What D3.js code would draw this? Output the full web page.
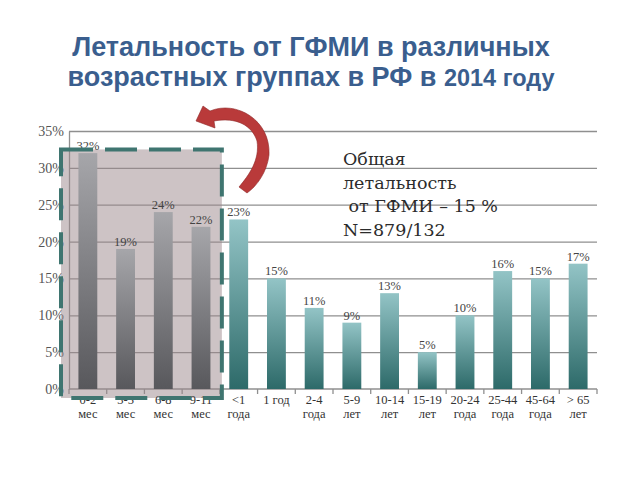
<!DOCTYPE html>
<html>
<head>
<meta charset="utf-8">
<script src="https://cdn.jsdelivr.net/npm/d3@7"></script>
<style>
  body { margin: 0; background: #fff; }
  svg { display: block; }
</style>
</head>
<body>
<div id="chart"></div>
<script>
// data
const categories = ["0-2\nмес", "3-5\nмес", "6-8\nмес", "9-11\nмес", "<1\nгода", "1 год",
  "2-4\nгода", "5-9\nлет", "10-14\nлет", "15-19\nлет", "20-24\nгода", "25-44\nгода", "45-64\nгода", "> 65\nлет"];
const values = [32, 19, 24, 22, 23, 15, 11, 9, 13, 5, 10, 16, 15, 17];
const infantCount = 4; // first four bars are highlighted (under 1 year)
const yTicks = [0, 5, 10, 15, 20, 25, 30, 35];
const titleLines = ["Летальность от ГФМИ в различных", "возрастных группах в РФ в "];
const titleTail = "2014 году";
const noteLines = ["Общая", "летальность", " от ГФМИ – 15 %", "N=879/132"];

const width = 640, height = 480;
const plotLeft = 69, plotRight = 597, plotTop = 131, plotBottom = 389;

const svg = d3.select('#chart')
  .append('svg')
    .attr('width', width)
    .attr('height', height);

const serif = "'Liberation Serif', 'DejaVu Serif', serif";

// gradients for the bars
const defs = svg.append('defs');
function grad(id, c1, c2) {
  const g = defs.append('linearGradient').attr('id', id)
    .attr('x1', 0).attr('y1', 0).attr('x2', 0).attr('y2', 1);
  g.append('stop').attr('offset', '0%').attr('stop-color', c1);
  g.append('stop').attr('offset', '100%').attr('stop-color', c2);
}
grad('gGray', '#a6a6aa', '#58585c');
grad('gTeal', '#93c4c6', '#2d6a69');

const x = d3.scaleBand()
    .domain(categories)
    .range([plotLeft, plotRight])
    .paddingInner(0.5)
    .paddingOuter(0.25);

const y = d3.scaleLinear()
    .domain([0, 35])
    .range([plotBottom, plotTop]);

// title
const title = svg.append('text')
    .attr('x', 311)
    .attr('text-anchor', 'middle')
    .style('font-family', "'Liberation Sans', Arial, sans-serif")
    .style('font-weight', 'bold')
    .style('font-size', '27px')
    .attr('fill', '#3a5e8e');
title.append('tspan').attr('x', 311).attr('y', 56).text(titleLines[0]);
title.append('tspan').attr('x', 311).attr('y', 86).text(titleLines[1])
  .append('tspan').style('font-size', '23.5px').text(titleTail);

// grid lines
svg.append('g')
    .attr('transform', `translate(${plotLeft},0)`)
    .call(d3.axisLeft(y).tickValues(yTicks.slice(1)).tickSize(-(plotRight - plotLeft)).tickFormat(''))
    .call(g => g.select('.domain').remove())
    .selectAll('line')
    .attr('stroke', '#8f8f8f')
    .attr('stroke-width', 1.3);

// y axis with labels
svg.append('g')
    .attr('transform', `translate(${plotLeft},0)`)
    .call(d3.axisLeft(y).tickValues(yTicks).tickSize(0).tickPadding(5).tickFormat(d => d + '%'))
    .call(g => g.select('.domain').attr('stroke', '#8f8f8f').attr('stroke-width', 1.3))
    .selectAll('text')
    .style('font-family', serif)
    .style('font-size', '14px')
    .attr('fill', '#555');

// baseline and category ticks
svg.append('line')
    .attr('x1', plotLeft).attr('x2', plotRight)
    .attr('y1', y(0)).attr('y2', y(0))
    .attr('stroke', '#8f8f8f').attr('stroke-width', 1.3);

const step = x.step();
const bounds = categories.map(c => x(c) + x.bandwidth() / 2 - step / 2);
bounds.push(plotRight);
svg.append('g').selectAll('line')
  .data(bounds)
  .join('line')
    .attr('x1', d => d).attr('x2', d => d)
    .attr('y1', y(0)).attr('y2', y(0) + 5)
    .attr('stroke', '#8f8f8f').attr('stroke-width', 1.3);

// highlight box over the infant groups (fill behind bars, dashed border on top)
const boxLeft = bounds[0] - 8;
const boxRight = bounds[infantCount] + 2;
const boxTop = y(32.5);
const boxBottom = y(0) + 9;
svg.append('rect')
    .attr('x', boxLeft)
    .attr('y', boxTop)
    .attr('width', boxRight - boxLeft)
    .attr('height', boxBottom - boxTop)
    .attr('fill', 'rgb(155,135,139)')
    .attr('fill-opacity', 0.5);

// bars
svg.append('g').selectAll('rect')
  .data(values)
  .join('rect')
    .attr('x', (d, i) => x(categories[i]))
    .attr('y', d => y(d))
    .attr('width', x.bandwidth())
    .attr('height', d => y(0) - y(d))
    .attr('fill', (d, i) => i < infantCount ? 'url(#gGray)' : 'url(#gTeal)');

// value labels
svg.append('g').selectAll('text')
  .data(values)
  .join('text')
    .attr('x', (d, i) => x(categories[i]) + x.bandwidth() / 2)
    .attr('y', d => y(d) - 3)
    .attr('text-anchor', 'middle')
    .style('font-family', serif)
    .style('font-size', '12.5px')
    .attr('fill', '#444')
    .text(d => d + '%');

// category labels
const catLabels = svg.append('g').selectAll('text')
  .data(categories)
  .join('text')
    .attr('text-anchor', 'middle')
    .style('font-family', serif)
    .style('font-size', '12.5px')
    .attr('fill', '#333');
catLabels.each(function(d) {
  const cx = x(d) + x.bandwidth() / 2;
  d.split('\n').forEach((line, k) => {
    d3.select(this).append('tspan')
      .attr('x', cx)
      .attr('y', 404 + k * 14)
      .text(line);
  });
});

svg.append('rect')
    .attr('x', boxLeft)
    .attr('y', boxTop)
    .attr('width', boxRight - boxLeft)
    .attr('height', boxBottom - boxTop)
    .attr('fill', 'none')
    .attr('stroke', '#3f7570')
    .attr('stroke-width', 4)
    .attr('stroke-dasharray', '32 12');

// curved red arrow
svg.append('path')
    .attr('d', 'M196,121 L203,106 L210,111 C236,100 271,120 269,155 C267,172 257,186 247,193 L239,187 C249,175 260,160 257,141 C252,125 236,117 214,121 L215,128 Z')
    .attr('fill', '#b93a3a')
    .attr('stroke', '#8e2a2a')
    .attr('stroke-width', 0.6);

// annotation text
const note = svg.append('text')
    .style('font-family', "'DejaVu Serif', serif")
    .style('font-size', '17.5px')
    .attr('fill', '#2b2b2b')
    .attr('xml:space', 'preserve');
noteLines.forEach((line, k) => {
  note.append('tspan')
    .attr('x', 343)
    .attr('y', 165 + k * 23.5)
    .text(line);
});
</script>
</body>
</html>
